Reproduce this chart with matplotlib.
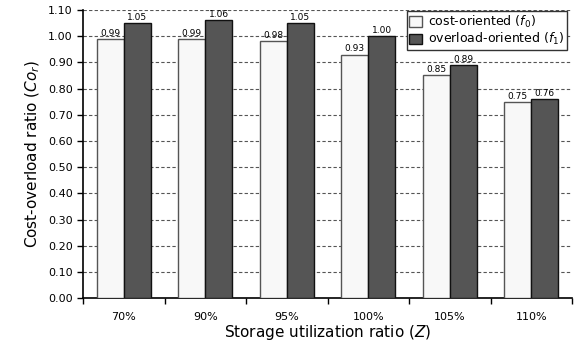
import matplotlib
matplotlib.use("Agg")
import matplotlib.pyplot as plt
import numpy as np

categories = ["70%", "90%", "95%", "100%", "105%", "110%"]
cost_oriented = [0.99, 0.99, 0.98, 0.93, 0.85, 0.75]
overload_oriented = [1.05, 1.06, 1.05, 1.00, 0.89, 0.76]

fig = plt.figure(figsize=(5.74, 3.45), dpi=100)
ax = fig.add_axes([0.1446, 0.136, 0.852, 0.835])

x = np.arange(len(categories))
w = 0.33
b1 = ax.bar(x - w / 2, cost_oriented, w, color="#f8f8f8", edgecolor="#555555",
            linewidth=1.0, label="cost-oriented ($f_0$)", zorder=3)
b2 = ax.bar(x + w / 2, overload_oriented, w, color="#555555", edgecolor="#111111",
            linewidth=1.0, label="overload-oriented ($f_1$)", zorder=3)

for bars, vals in [(b1, cost_oriented), (b2, overload_oriented)]:
    for r, v in zip(bars, vals):
        ax.text(r.get_x() + r.get_width() / 2, v + 0.004, "%.2f" % v,
                ha="center", va="bottom", fontsize=6.5, zorder=4)

ax.set_xlim(-0.5, len(categories) - 0.5)
ax.set_ylim(0, 1.10)
ax.set_yticks(np.arange(0, 1.101, 0.1))
ax.set_yticklabels(["%.2f" % t for t in np.arange(0, 1.101, 0.1)], fontsize=8)
ax.set_xticks(x)
ax.set_xticklabels(categories, fontsize=8)
ax.set_xticks(np.arange(-0.5, len(categories)), minor=True)
ax.tick_params(axis="x", which="major", length=0, pad=10)
ax.tick_params(axis="x", which="minor", length=4, width=1)
ax.tick_params(axis="y", length=4, width=1)

ax.yaxis.grid(True, linestyle=(0, (3, 2)), color="#555555", linewidth=0.8, zorder=0)
ax.set_axisbelow(True)
for s in ["top", "right"]:
    ax.spines[s].set_visible(False)
ax.spines["left"].set_linewidth(1.2)
ax.spines["bottom"].set_linewidth(1.2)

ax.set_xlabel("Storage utilization ratio ($Z$)", fontsize=11, labelpad=1)
ax.set_ylabel("Cost-overload ratio ($Co_r$)", fontsize=11)

leg = ax.legend(loc="upper right", bbox_to_anchor=(0.99, 0.995), fontsize=9,
                fancybox=False, framealpha=1, edgecolor="#333333",
                handlelength=1.0, handleheight=0.9, borderaxespad=0,
                borderpad=0.2, labelspacing=0.1, handletextpad=0.5)

fig.savefig("out.png", dpi=100)
